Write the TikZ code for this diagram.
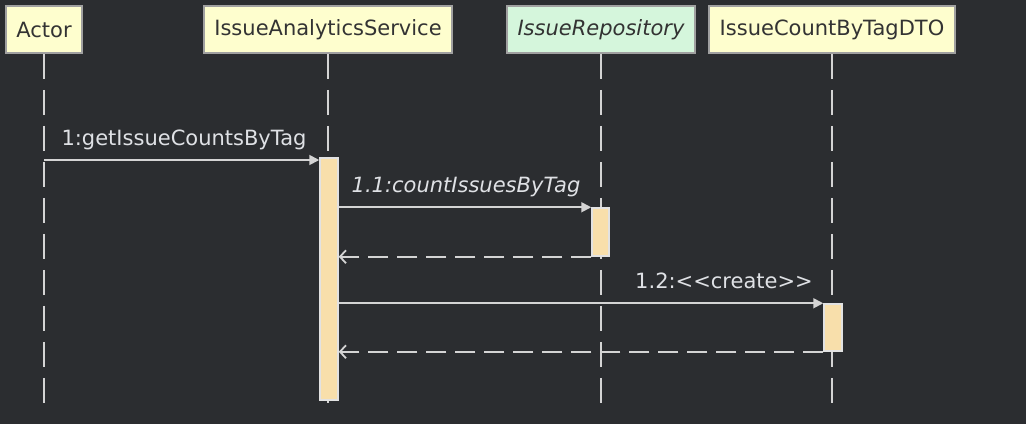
\documentclass[tikz,border=0pt]{standalone}
\usepackage{fontspec}
\setmainfont{DejaVu Sans}
\usetikzlibrary{arrows.meta}
\definecolor{bg}{HTML}{2B2D30}
\definecolor{headyellow}{HTML}{FEFECE}
\definecolor{headgreen}{HTML}{D5F6DC}
\definecolor{headline}{HTML}{A0A0A0}
\definecolor{headtext}{HTML}{333333}
\definecolor{lineclr}{HTML}{D4D4D4}
\definecolor{labelclr}{HTML}{DFE1E5}
\definecolor{actfill}{HTML}{F8DFAB}
\definecolor{actline}{HTML}{E2E2E2}
\begin{document}
\begin{tikzpicture}[x=1pt,y=-1pt,
  every node/.style={font=\fontsize{21}{25}\selectfont},
  head/.style={draw=headline,line width=1.5pt,fill=headyellow,text=headtext,
    minimum height=47pt,inner xsep=10.5pt,inner ysep=0pt},
  life/.style={draw=lineclr,line width=1.8pt,dash pattern=on 25pt off 11pt},
  act/.style={draw=actline,fill=actfill,line width=1.5pt,minimum width=18pt,inner sep=0pt},
  msg/.style={draw=lineclr,line width=1.8pt,-{Triangle[length=10pt,width=10pt]}},
  ret/.style={draw=lineclr,line width=1.8pt,dash pattern=on 20pt off 9pt,
    -{Straight Barb[length=6pt,width=13pt]}},
  lbl/.style={text=labelclr,anchor=base,inner sep=0pt}]
\fill[bg] (0,0) rectangle (1026,424);
\useasboundingbox (0,0) rectangle (1026,424);

% participants
\node[head] (actor) at (44,29.5) {Actor};
\node[head] (service) at (328,29.5) {IssueAnalyticsService};
\node[head,fill=headgreen] (repo) at (601,29.5) {\itshape IssueRepository};
\node[head] (dto) at (832,29.5) {IssueCountByTagDTO};

% lifelines
\coordinate (bottom) at (0,404);
\foreach \p in {actor,service,repo,dto}
  \draw[life] (\p.south) -- (\p.south |- bottom);

% activations
\node[act,minimum height=242pt] (act1) at (329,279) {};
\node[act,minimum width=17pt,minimum height=48pt] (act2) at (600.5,232) {};
\node[act,minimum height=47pt] (act3) at (833,327.5) {};

% messages
\coordinate (m1) at (0,160);
\draw[msg] (actor.south |- m1) -- (act1.west |- m1);
\node[lbl] (l1) at (184,145) {1:getIssueCountsByTag};

\draw[msg] (act1.east |- act2.north) -- (act2.north west);
\node[lbl] (l11) at (466,192) {\itshape 1.1:countIssuesByTag};
\draw[ret] (act2.south west) -- (act1.east |- act2.south);

\draw[msg] (act1.east |- act3.north) -- (act3.north west);
\node[lbl] (l12) at (724,288) {1.2:{<}{<}create{>}{>}};
\draw[ret] (act3.south west) -- (act1.east |- act3.south);
\end{tikzpicture}
\end{document}
